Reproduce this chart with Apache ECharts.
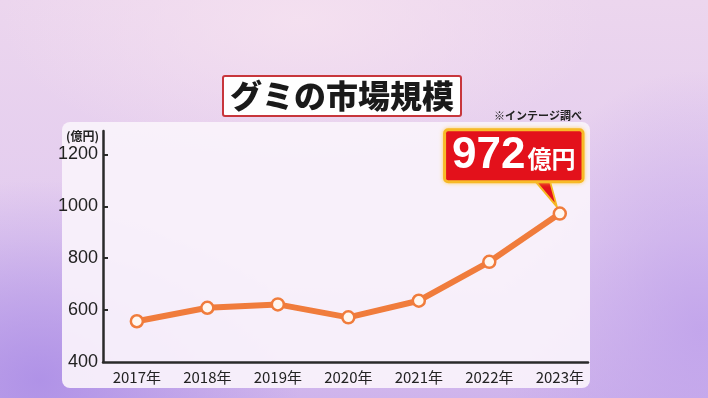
<!DOCTYPE html>
<html><head><meta charset="utf-8">
<script src="https://cdn.jsdelivr.net/npm/echarts@6/dist/echarts.min.js"></script>
<style>
html,body{margin:0;padding:0;}
#bg{position:absolute;left:0;top:0;width:708px;height:398px;
background:
 radial-gradient(ellipse 260px 200px at 40px 380px, rgba(170,140,230,0.85), rgba(170,140,230,0) 100%),
 radial-gradient(ellipse 200px 260px at 700px 330px, rgba(190,160,235,0.8), rgba(190,160,235,0) 100%),
 radial-gradient(ellipse 300px 140px at 300px 20px, rgba(245,225,240,0.9), rgba(245,225,240,0) 100%),
 linear-gradient(180deg,#ecd6ee 0%,#e2cbef 60%,#cfb4ec 100%);}
#c{position:absolute;left:0;top:0;width:708px;height:398px;}
</style></head>
<body><div id="bg"></div><div id="c"></div>
<script>
const categories = ['2017年','2018年','2019年','2020年','2021年','2022年','2023年'];
const values = [557, 609, 622, 572, 636, 786, 972];
const yTicks = [400, 600, 800, 1000, 1200];
const titleText = 'グミの市場規模';
const sourceText = '※インテージ調べ';
const unitText = '(億円)';

const chart = echarts.init(document.getElementById('c'), null, {renderer:'canvas'});
const last = values.length - 1;
const seriesData = values.map((v, i) => {
  const item = {value: [i, v]};
  if (i === last) {
    item.label = {
      show: true, position: 'top', distance: 26, offset: [-46, 0],
      formatter: '{a|' + v + '}{b|億円}',
      backgroundColor: '#e3111b', borderColor: '#f6b824', borderWidth: 3,
      borderRadius: 2, padding: [1, 6, 0, 6],
      shadowColor: 'rgba(255,200,60,0.7)', shadowBlur: 4,
      rich: {
        a: {fontFamily: 'Liberation Sans, Arial, sans-serif', fontWeight: 'bold', fontSize: 44, color: '#fff', lineHeight: 48},
        b: {fontFamily: 'Noto Sans CJK JP', fontWeight: 'bold', fontSize: 24, color: '#fff', lineHeight: 48, padding: [6,0,0,2]}
      }
    };
  }
  return item;
});

chart.setOption({
  backgroundColor: 'transparent',
  animation: false,
  graphic: [{
    type: 'rect', z: -10, silent: true,
    shape: {x: 62, y: 122, width: 528, height: 266, r: 8},
    style: {fill: 'rgba(250,243,251,0.92)'}
  }],
  title: [{
    text: titleText, left: 223, top: 76,
    backgroundColor: '#ffffff', borderColor: '#c8363c', borderWidth: 2, borderRadius: 2,
    padding: [1, 7, 1, 7],
    textStyle: {fontFamily: 'Noto Sans CJK JP', fontWeight: 900, fontSize: 32, color: '#1a1a1a', lineHeight: 38}
  }, {
    text: sourceText, left: 489, top: 105,
    textStyle: {fontFamily: 'Noto Sans CJK JP', fontWeight: 'bold', fontSize: 11, color: '#222'}
  }],
  grid: {left: 103, top: 131, right: 120, bottom: 36},
  xAxis: {
    type: 'value', min: -0.48, max: 6.4,
    splitLine: {show: false},
    axisLine: {show: true, onZero: false, lineStyle: {color: '#2a2a2a', width: 2.5}},
    axisTick: {show: false},
    axisLabel: {
      customValues: categories.map((c, i) => i),
      formatter: (val) => categories[Math.round(val)],
      margin: 8, color: '#222', fontSize: 15,
      fontFamily: 'Liberation Sans Narrow, Noto Sans CJK JP, sans-serif'
    }
  },
  yAxis: {
    type: 'value', min: 400, max: 1290,
    name: unitText, nameLocation: 'end', nameGap: -5,
    nameTextStyle: {align: 'right', verticalAlign: 'middle', padding: [0, 4, 0, 0],
      fontFamily: 'Noto Sans CJK JP', fontWeight: 'bold', fontSize: 12, color: '#222'},
    splitLine: {show: false},
    axisLine: {show: true, onZero: false, lineStyle: {color: '#2a2a2a', width: 2.5}},
    axisTick: {show: true, inside: true, length: 5, customValues: yTicks.slice(1), lineStyle: {color: '#2a2a2a', width: 2}},
    axisLabel: {
      customValues: yTicks, margin: 5, color: '#222', fontSize: 18,
      formatter: (val) => String(val),
      fontFamily: 'Liberation Sans Narrow, Arial Narrow, sans-serif'
    }
  },
  series: [{
    type: 'line', data: seriesData,
    lineStyle: {color: '#f07c3c', width: 6},
    itemStyle: {color: '#fff7f0', borderColor: '#f07c3c', borderWidth: 2.5},
    symbol: 'circle', symbolSize: 12,
    markPoint: {
      z: 1, silent: true,
      symbol: 'path://M0,0 L15,0 L22,26 Z', symbolKeepAspect: false,
      symbolSize: [22, 26], symbolOffset: [-14, -20],
      itemStyle: {color: '#e3111b', borderColor: '#f6b824', borderWidth: 2},
      label: {show: false},
      data: [{coord: [last, values[last]]}]
    }
  }]
});
</script></body></html>
